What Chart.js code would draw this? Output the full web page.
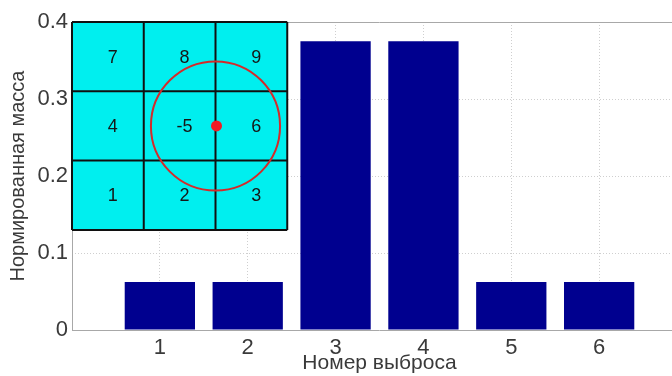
<!DOCTYPE html>
<html>
<head>
<meta charset="utf-8">
<script src="https://cdn.jsdelivr.net/npm/chart.js@4/dist/chart.umd.min.js"></script>
<style>
  html, body { margin: 0; padding: 0; overflow: hidden; background: #fff; }
  #wrap { width: 688px; height: 376px; }
</style>
</head>
<body>
<div id="wrap"><canvas id="c" width="688" height="376"></canvas></div>
<script>
// Burst numbers and normalised mass per burst
const burstNumbers = [1, 2, 3, 4, 5, 6];
const normMass = [0.0625, 0.0625, 0.375, 0.375, 0.0625, 0.0625];
const yTickValues = [0, 0.1, 0.2, 0.3, 0.4];
const xTitle = 'Номер выброса';
const yTitle = 'Нормированная масса';
// 3x3 cell numbering shown in the inset (top row first)
const cellLabels = [
  ['7', '8', '9'],
  ['4', '-5', '6'],
  ['1', '2', '3']
];

const FONT = '"Liberation Sans", Arial, sans-serif';
const TEXT = '#3a3a3a';

// Inset grid with the capture circle, placed in data units of the axes
const insetPlugin = {
  id: 'cellInset',
  afterDatasetsDraw(chart) {
    const { ctx, chartArea, scales: { x, y } } = chart;
    ctx.save();
    ctx.setLineDash([]);
    // solid box lines on the top and left of the plot
    ctx.strokeStyle = '#a8a8a8';
    ctx.lineWidth = 1;
    ctx.beginPath();
    ctx.moveTo(chartArea.left, chartArea.top + 0.5);
    ctx.lineTo(chartArea.right, chartArea.top + 0.5);
    ctx.moveTo(chartArea.left + 0.5, chartArea.top);
    ctx.lineTo(chartArea.left + 0.5, chartArea.bottom);
    ctx.moveTo(chartArea.left, chartArea.bottom + 0.5);
    ctx.lineTo(chartArea.right, chartArea.bottom + 0.5);
    ctx.stroke();

    const left = x.getPixelForValue(0);
    const right = x.getPixelForValue(2.45);
    const top = y.getPixelForValue(0.4);
    const bottom = y.getPixelForValue(0.13);
    const cw = (right - left) / 3;
    const ch = (bottom - top) / 3;

    ctx.fillStyle = '#00efef';
    ctx.fillRect(left, top, right - left, bottom - top);

    ctx.strokeStyle = '#101010';
    ctx.lineWidth = 2;
    ctx.beginPath();
    for (let i = 0; i <= 3; i++) {
      ctx.moveTo(left + i * cw, top);
      ctx.lineTo(left + i * cw, bottom);
      ctx.moveTo(left, top + i * ch);
      ctx.lineTo(right, top + i * ch);
    }
    ctx.stroke();

    ctx.fillStyle = '#161616';
    ctx.font = '18px ' + FONT;
    ctx.textAlign = 'center';
    ctx.textBaseline = 'middle';
    cellLabels.forEach((row, r) => {
      row.forEach((lab, c) => {
        ctx.fillText(lab, left + (c + 0.5) * cw + 5, top + (r + 0.5) * ch + 1);
      });
    });

    const cx = left + 2 * cw;
    const cy = top + 1.5 * ch;
    ctx.strokeStyle = '#d42a2a';
    ctx.lineWidth = 2;
    ctx.beginPath();
    ctx.arc(cx, cy, 0.9 * cw, 0, Math.PI * 2);
    ctx.stroke();
    ctx.fillStyle = '#ee1c24';
    ctx.beginPath();
    ctx.arc(cx + 1, cy, 5.5, 0, Math.PI * 2);
    ctx.fill();
    ctx.restore();
  }
};

new Chart(document.getElementById('c'), {
  type: 'bar',
  data: {
    datasets: [{
      data: burstNumbers.map((b, i) => ({ x: b, y: normMass[i] })),
      backgroundColor: '#00008f',
      borderWidth: 0,
      barPercentage: 0.8,
      categoryPercentage: 1.0
    }]
  },
  options: {
    responsive: false,
    animation: false,
    layout: { padding: { top: 22, right: 1, bottom: 0, left: 0 } },
    plugins: { legend: { display: false }, tooltip: { enabled: false } },
    scales: {
      x: {
        type: 'linear',
        min: 0,
        max: 7,
        offset: false,
        afterBuildTicks(scale) { scale.ticks = burstNumbers.map(v => ({ value: v })); },
        afterFit(scale) { scale.height = 46; },
        grid: { color: '#cfcfcf', drawTicks: false, lineWidth: 1, offset: false },
        border: { display: false, dash: [1, 2] },
        ticks: {
          padding: 5,
          color: TEXT,
          font: { family: FONT, size: 22 },
          callback: v => String(v)
        },
        title: {
          display: true,
          text: xTitle,
          color: TEXT,
          font: { family: FONT, size: 21 },
          padding: { top: 0, bottom: 0 }
        }
      },
      y: {
        min: 0,
        max: 0.4,
        afterBuildTicks(scale) { scale.ticks = yTickValues.map(v => ({ value: v })); },
        afterFit(scale) { scale.width = 72; },
        grid: { color: '#cfcfcf', drawTicks: false, lineWidth: 1 },
        border: { display: false, dash: [1, 2] },
        ticks: {
          padding: 4,
          color: TEXT,
          font: { family: FONT, size: 22 },
          callback: v => (v === 0 ? '0' : v.toFixed(1))
        },
        title: {
          display: true,
          text: yTitle,
          color: TEXT,
          font: { family: FONT, size: 20 },
          padding: { top: 6, bottom: 0 }
        }
      }
    }
  },
  plugins: [insetPlugin]
});
</script>
</body>
</html>
